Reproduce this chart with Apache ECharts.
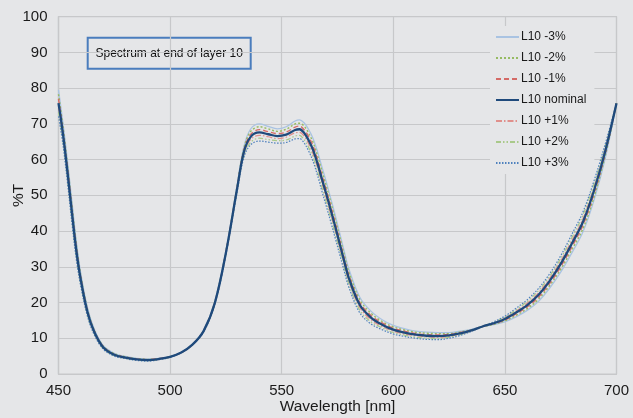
<!DOCTYPE html>
<html>
<head>
<meta charset="utf-8">
<script src="https://cdn.jsdelivr.net/npm/echarts@6/dist/echarts.min.js"></script>
<style>
  html, body { margin: 0; padding: 0; background: #e5e6e8; }
  #chart { width: 633px; height: 418px; }
</style>
</head>
<body>
<div id="chart"></div>
<script>
// Wavelength sample points [nm]
var wavelengths = [450,452,454,456,458,460,463,466,470,475,480,485,490,495,500,505,510,515,520,525,530,533,536,540,544,548,552,556,558,560,562,564,566,568,570,572,574,576,578,580,585,590,595,600,605,610,615,620,625,630,635,640,645,650,655,660,665,670,675,680,685,690,695,700];

// Transmittance (%T) for each layer-10 thickness variant
var tMinus3 = [79.5,70.2,59.7,48.3,37.0,28.1,18.5,12.6,8.0,5.8,4.9,4.4,4.2,4.4,4.9,6.0,8.2,12.2,20.2,34.5,52.8,63.5,68.5,70.0,69.3,68.6,69.2,70.8,71.1,70.3,68.5,66.0,62.3,58.0,53.7,49.1,44.4,39.4,34.4,29.6,21.5,17.6,15.2,13.6,12.7,12.0,11.7,11.6,11.6,12.0,12.5,13.3,13.8,14.6,16.0,17.8,20.3,24.0,28.5,33.9,39.8,48.8,60.5,75.8];
var tMinus2 = [78.3,69.2,58.7,47.3,36.2,27.5,18.1,12.3,7.8,5.7,4.8,4.3,4.1,4.3,4.9,6.0,8.2,12.1,20.1,34.3,52.5,63.0,67.8,69.2,68.6,67.9,68.5,70.0,70.2,69.4,67.5,64.9,61.2,56.9,52.6,48.0,43.3,38.4,33.5,28.7,20.8,17.0,14.7,13.2,12.3,11.7,11.4,11.3,11.3,11.8,12.4,13.3,13.9,14.9,16.4,18.3,20.9,24.7,29.3,34.8,40.7,49.7,61.2,75.8];
var tMinus1 = [77.0,68.2,57.7,46.3,35.3,26.9,17.7,12.1,7.7,5.5,4.7,4.2,4.0,4.3,4.8,6.0,8.2,12.1,19.9,34.1,52.1,62.5,67.0,68.4,67.8,67.3,67.7,69.1,69.4,68.4,66.5,63.9,60.1,55.7,51.4,46.9,42.3,37.4,32.5,27.9,20.0,16.4,14.3,12.8,12.0,11.3,11.0,10.9,11.1,11.6,12.3,13.3,14.1,15.1,16.8,18.8,21.5,25.3,30.0,35.6,41.7,50.6,61.8,75.8];
var tNominal = [75.8,67.2,56.7,45.3,34.5,26.3,17.3,11.8,7.5,5.4,4.6,4.1,3.9,4.2,4.8,6.0,8.2,12.0,19.8,33.9,51.8,62.0,66.3,67.6,67.1,66.6,67.0,68.3,68.5,67.5,65.5,62.8,59.0,54.6,50.3,45.8,41.2,36.4,31.6,27.0,19.3,15.8,13.8,12.4,11.6,11.0,10.7,10.6,10.8,11.4,12.2,13.3,14.2,15.4,17.2,19.3,22.1,26.0,30.8,36.5,42.6,51.5,62.5,75.8];
var tPlus1 = [74.6,66.2,55.7,44.3,33.7,25.7,16.9,11.5,7.3,5.3,4.5,4.0,3.8,4.1,4.8,6.0,8.2,11.9,19.7,33.7,51.5,61.5,65.6,66.8,66.4,65.9,66.3,67.5,67.6,66.6,64.5,61.7,57.9,53.5,49.2,44.7,40.1,35.4,30.7,26.1,18.6,15.2,13.3,12.0,11.2,10.7,10.4,10.3,10.5,11.2,12.1,13.3,14.3,15.7,17.6,19.8,22.7,26.7,31.6,37.4,43.5,52.4,63.2,75.8];
var tPlus2 = [73.3,65.2,54.7,43.3,32.8,25.1,16.5,11.3,7.2,5.1,4.4,3.9,3.7,4.1,4.7,6.0,8.2,11.9,19.5,33.5,51.1,61.0,64.8,66.0,65.6,65.3,65.5,66.6,66.8,65.6,63.5,60.7,56.8,52.3,48.0,43.6,39.1,34.4,29.7,25.3,17.8,14.6,12.9,11.6,10.9,10.3,10.0,9.9,10.3,11.0,12.0,13.3,14.5,15.9,18.0,20.3,23.3,27.3,32.3,38.2,44.5,53.3,63.8,75.8];
var tPlus3 = [72.1,64.2,53.7,42.3,32.0,24.5,16.1,11.0,7.0,5.0,4.3,3.8,3.6,4.0,4.7,6.0,8.2,11.8,19.4,33.3,50.8,60.5,64.1,65.2,64.9,64.6,64.8,65.8,65.9,64.7,62.5,59.6,55.7,51.2,46.9,42.5,38.0,33.4,28.8,24.4,17.1,14.0,12.4,11.2,10.5,10.0,9.7,9.6,10.0,10.8,11.9,13.3,14.6,16.2,18.4,20.8,23.9,28.0,33.1,39.1,45.4,54.2,64.5,75.8];

var seriesNames = ['L10 -3%','L10 -2%','L10 -1%','L10 nominal','L10 +1%','L10 +2%','L10 +3%'];
var seriesValues = [tMinus3, tMinus2, tMinus1, tNominal, tPlus1, tPlus2, tPlus3];

var xTicks = [450, 500, 550, 600, 650, 700];
var yTicks = [0, 10, 20, 30, 40, 50, 60, 70, 80, 90, 100];

var lineStyles = [
  { color: '#a9c3e2', width: 1.3, type: 'solid' },
  { color: '#96bb62', width: 1.4, type: [2, 2] },
  { color: '#d46a66', width: 1.4, type: [5, 3] },
  { color: '#1f4a7c', width: 2.3, type: 'solid' },
  { color: '#e0908c', width: 1.2, type: [6, 2, 1.5, 2] },
  { color: '#a9c98a', width: 1.2, type: [5, 2, 1.5, 2, 1.5, 2] },
  { color: '#4f81bd', width: 1.2, type: [1.5, 1.5] }
];

var BG = '#e5e6e8';
var GRID = '#c7c8ca';
var FONT = '"Liberation Sans", Arial, Helvetica, sans-serif';

var series = seriesNames.map(function (name, i) {
  return {
    name: name,
    type: 'line',
    smooth: 0.35,
    showSymbol: false,
    symbol: 'none',
    z: i === 3 ? 5 : 2,
    lineStyle: lineStyles[i],
    itemStyle: { color: lineStyles[i].color },
    data: wavelengths.map(function (w, k) { return [w, seriesValues[i][k]]; })
  };
});

var chart = echarts.init(document.getElementById('chart'), null, { renderer: 'canvas' });
chart.setOption({
  backgroundColor: BG,
  animation: false,
  grid: {
    left: 58.5, right: 16.5, top: 16.7, bottom: 44,
    outerBoundsMode: 'none',
    show: true, borderColor: GRID, borderWidth: 1.2
  },
  xAxis: {
    type: 'value',
    min: xTicks[0],
    max: xTicks[xTicks.length - 1],
    interval: 50,
    name: 'Wavelength [nm]',
    nameLocation: 'middle',
    nameGap: 25,
    nameMoveOverlap: false,
    nameTextStyle: { fontFamily: FONT, fontSize: 15.5, color: '#1a1a1a' },
    axisLine: { show: true, lineStyle: { color: GRID, width: 1.2 } },
    axisTick: { show: false },
    axisLabel: { fontFamily: FONT, fontSize: 15, color: '#1a1a1a', margin: 9 },
    splitLine: { show: true, lineStyle: { color: GRID, width: 1.2 } }
  },
  yAxis: {
    type: 'value',
    min: yTicks[0],
    max: yTicks[yTicks.length - 1],
    interval: 10,
    name: '%T',
    nameLocation: 'middle',
    nameGap: 32,
    nameRotate: 90,
    nameMoveOverlap: false,
    nameTextStyle: { fontFamily: FONT, fontSize: 15.5, color: '#1a1a1a' },
    axisLine: { show: true, lineStyle: { color: GRID, width: 1.2 } },
    axisTick: { show: false },
    axisLabel: { fontFamily: FONT, fontSize: 15, color: '#1a1a1a', margin: 11 },
    splitLine: { show: true, lineStyle: { color: GRID, width: 1.2 } }
  },
  legend: {
    orient: 'vertical',
    left: 490,
    top: 26,
    padding: [5, 8, 5, 5],
    backgroundColor: BG,
    itemWidth: 23,
    itemHeight: 12,
    itemGap: 9,
    itemStyle: { color: 'rgba(0,0,0,0)', borderColor: 'rgba(0,0,0,0)', borderWidth: 0 },
    textStyle: { fontFamily: FONT, fontSize: 12, color: '#1a1a1a', padding: [0, 0, 0, -3] },
    data: seriesNames
  },
  graphic: [
    {
      type: 'group',
      left: 86.7,
      top: 36.7,
      children: [
        {
          type: 'rect',
          shape: { x: 0, y: 0, width: 163, height: 31 },
          style: { fill: BG, stroke: '#4a7dbd', lineWidth: 2 }
        },
        {
          type: 'text',
          x: 81.5,
          y: 15.5,
          style: {
            text: 'Spectrum at end of layer 10',
            fontFamily: FONT,
            fontSize: 12,
            fill: '#111',
            align: 'center',
            verticalAlign: 'middle'
          }
        }
      ]
    }
  ],
  series: series
});
</script>
</body>
</html>
